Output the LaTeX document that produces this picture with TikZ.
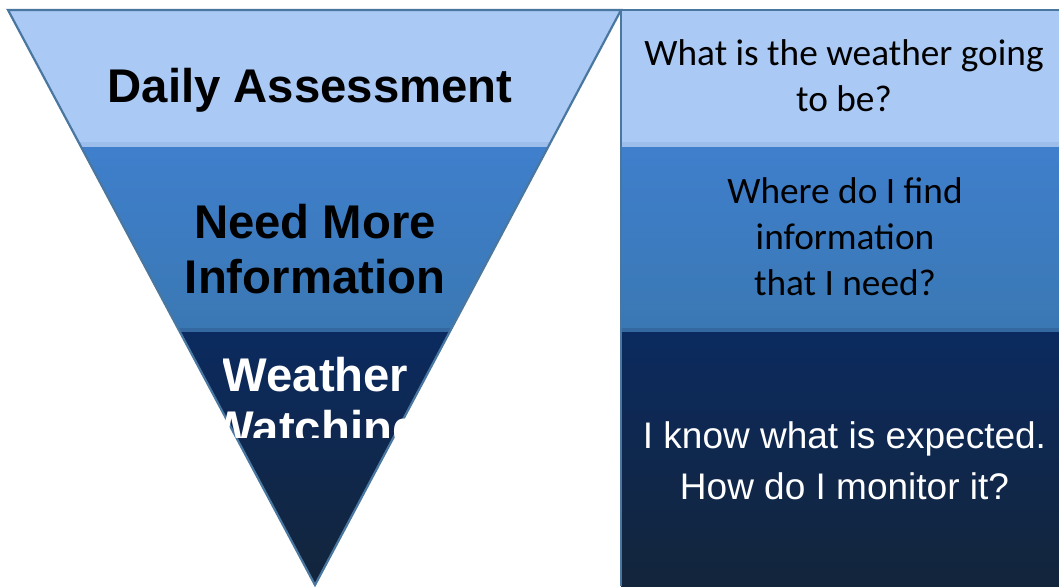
\documentclass[tikz,border=0pt]{standalone}
\usepackage{fontspec}
\setmainfont{Liberation Sans}
\newfontfamily\calfont{Carlito}
\definecolor{edgeblue}{HTML}{4A77A0}
\definecolor{lightband}{HTML}{ABC9F5}
\definecolor{lightstripe}{HTML}{9DBDEB}
\definecolor{midtop}{HTML}{3F7FCC}
\definecolor{midbot}{HTML}{3A78B4}
\definecolor{midstripe}{HTML}{3468A0}
\definecolor{darktop}{HTML}{0B2A5F}
\definecolor{darkbot}{HTML}{13253B}
\begin{document}
\begin{tikzpicture}[x=1pt,y=-1pt,
  bigtext/.style={font=\bfseries\fontsize{47.3}{55}\selectfont, inner sep=0pt, anchor=base, align=center},
  qtext/.style={font=\calfont\fontsize{37.3}{46}\selectfont, inner sep=0pt, anchor=base, align=center},
  atext/.style={font=\fontsize{37}{51}\selectfont, inner sep=0pt, anchor=base, align=center, text=white},
  outline/.style={draw=edgeblue, line width=2.2pt, line join=miter}]
\useasboundingbox (0,0) rectangle (1059,586);
% --- funnel bands
\begin{scope}
  \clip (8,10) -- (621,10) -- (315,585) -- cycle;
  \fill[lightband] (0,10) rectangle (640,142);
  \fill[lightstripe] (0,142) rectangle (640,147);
  \shade[top color=midtop, bottom color=midbot] (0,147) rectangle (640,328);
  \fill[midstripe] (0,328) rectangle (640,332);
  \shade[top color=darktop, bottom color=darkbot] (0,332) rectangle (640,586);
\end{scope}
% --- right boxes
\fill[lightband] (621,10) rectangle (1059,142);
\fill[lightstripe] (621,142) rectangle (1059,147);
\shade[top color=midtop, bottom color=midbot] (621,147) rectangle (1059,328);
\fill[midstripe] (621,328) rectangle (1059,332);
\shade[top color=darktop, bottom color=darkbot] (621,332) rectangle (1059,586);
% --- outlines
\draw[outline] (8,10) -- (621,10) -- (315,585) -- cycle;
\draw[outline] (621,586) -- (621,10) -- (1059,10);
% --- funnel texts (base anchor = baseline of last line)
\node[bigtext] (daily) at (310,102) {Daily Assessment};
\node[bigtext] (need) at (315,293) {Need More\\Information};
\begin{scope}
  \clip (223,340) rectangle (410,437);
  \node[bigtext, font=\bfseries\fontsize{47.3}{53}\selectfont, text=white] (watch) at (315.5,444) {Weather\\Watching};
\end{scope}
% --- right texts
\node[qtext] (q1) at (844,111) {What is the weather going\\to be?};
\node[qtext] (q2) at (845,295) {Where do I find\\information\\that I need?};
\node[atext] (q3) at (844.5,499) {I know what is expected.\\How do I monitor it?};
\end{tikzpicture}
\end{document}
